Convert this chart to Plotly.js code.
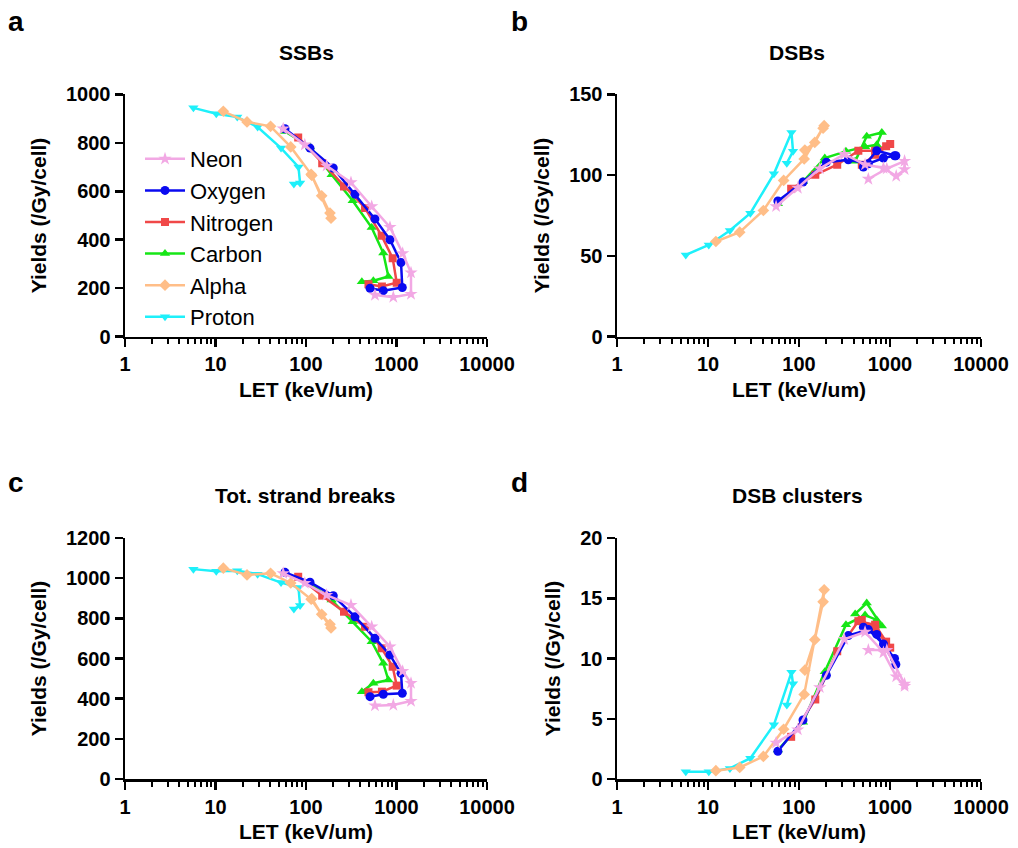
<!DOCTYPE html>
<html>
<head>
<meta charset="utf-8">
<script src="https://cdn.plot.ly/plotly-3.0.1.min.js"></script>
<style>html,body{margin:0;padding:0;background:#fff;}#chart{width:1018px;height:848px;}</style>
</head>
<body>
<div id="chart"></div>
<script>
// ---------- data ----------
const seriesNames = ["Neon", "Oxygen", "Nitrogen", "Carbon", "Alpha", "Proton"];

const neonLET  = [56, 97, 169, 314, 532, 847, 1170, 1446, 1446, 922, 578];
const neonSSB  = [858, 792, 705, 636, 537, 452, 344, 264, 176, 163, 172];
const neonDSB  = [80.6, 92, 104, 113, 106.5, 104.4, 99.4, 103.5, 108.7, 104, 97.6];
const neonTOT  = [1024, 975, 916, 866, 758, 659, 537, 477, 388, 368, 365];
const neonCLU  = [3.0, 4.1, 7.6, 11.6, 12.2, 10.5, 8.5, 7.7, 7.9, 10.7, 10.7];

const oxyLET   = [58.6, 110.7, 200, 348, 578, 847, 1122, 1159, 715, 510];
const oxySSB   = [858, 778, 696, 588, 486, 400, 306, 203, 190, 200];
const oxyDSB   = [84, 95.7, 108, 109.5, 107, 110.6, 112, 112, 115.1, 105];
const oxyTOT   = [1029, 980, 913, 808, 701, 618, 526, 427, 422, 410];
const oxyCLU   = [2.3, 4.9, 8.6, 11.9, 12.4, 11.2, 10.0, 9.5, 12.0, 12.6];

const nitLET   = [82, 151, 263, 449, 686, 907, 1005, 690, 490];
const nitSSB   = [822, 716, 620, 531, 416, 324, 223, 207, 216];
const nitDSB   = [91.6, 100.2, 106.4, 115.1, 115, 117.8, 119.3, 112.6, 106.4];
const nitTOT   = [1007, 913, 833, 758, 651, 559, 465, 435, 432];
const nitCLU   = [3.5, 6.6, 10.6, 13.1, 12.8, 11.4, 10.9, 12.4, 13.2];

const carLET   = [58.6, 110.7, 192, 328, 532, 715, 813, 555, 414];
const carSSB   = [847, 783, 668, 561, 450, 345, 248, 231, 227];
const carDSB   = [82.3, 96, 110.6, 114.7, 117.5, 118.8, 126.4, 124, 108.5];
const carTOT   = [1024, 975, 891, 783, 684, 576, 493, 477, 435];
const carCLU   = [2.4, 4.7, 8.9, 12.8, 13.6, 13.2, 12.7, 14.6, 13.7];

const alpLET   = [12.2, 22.3, 40.6, 67.8, 114, 189, 184, 149, 116];
const alpSSB   = [930, 886, 868, 783, 670, 489, 510, 581, 665];
const alpDSB   = [58.9, 64.7, 78.1, 96.7, 110, 130.6, 129, 120.2, 115.5];
const alpTOT   = [1050, 1016, 1024, 976, 895, 752, 770, 820, 898];
const alpCLU   = [0.69, 0.96, 1.87, 4.13, 7.02, 15.7, 14.7, 11.56, 9.03];

const proLET   = [5.7, 10.2, 17.4, 29.2, 53, 82.6, 86, 73.5];
const proSSB   = [944, 920, 906, 865, 778, 700, 634, 630];
const proDSB   = [50.6, 56.8, 65.7, 76.4, 100.8, 126.4, 114.7, 107.4];
const proTOT   = [1045, 1034, 1037, 1020, 978, 954, 864, 846];
const proCLU   = [0.6, 0.6, 0.88, 1.73, 4.5, 8.85, 7.9, 6.15];

const xTickVals = [1, 10, 100, 1000, 10000];
const xTickText = ["1", "10", "100", "1000", "10000"];
const panelTitles = ["SSBs", "DSBs", "Tot. strand breaks", "DSB clusters"];
const panelLetters = ["a", "b", "c", "d"];
const xTitle = "LET (keV/um)";
const yTitle = "Yields (/Gy/cell)";

// ---------- styles ----------
const styles = {
  Neon:     {color: "#f2a8e4", symbol: "star",          size: 10},
  Oxygen:   {color: "#0a0af0", symbol: "circle",        size: 9},
  Nitrogen: {color: "#f04848", symbol: "square",        size: 8},
  Carbon:   {color: "#16e616", symbol: "triangle-up",   size: 9},
  Alpha:    {color: "#ffbe88", symbol: "diamond",       size: 9},
  Proton:   {color: "#1ef0fa", symbol: "triangle-down", size: 9}
};

const seriesData = {
  Neon:     {x: neonLET, y: [neonSSB, neonDSB, neonTOT, neonCLU]},
  Oxygen:   {x: oxyLET,  y: [oxySSB,  oxyDSB,  oxyTOT,  oxyCLU]},
  Nitrogen: {x: nitLET,  y: [nitSSB,  nitDSB,  nitTOT,  nitCLU]},
  Carbon:   {x: carLET,  y: [carSSB,  carDSB,  carTOT,  carCLU]},
  Alpha:    {x: alpLET,  y: [alpSSB,  alpDSB,  alpTOT,  alpCLU]},
  Proton:   {x: proLET,  y: [proSSB,  proDSB,  proTOT,  proCLU]}
};

const axisIds = [["x", "y"], ["x2", "y2"], ["x3", "y3"], ["x4", "y4"]];
const drawOrder = ["Proton", "Alpha", "Carbon", "Nitrogen", "Oxygen", "Neon"];

const traces = [];
for (let p = 0; p < 4; p++) {
  drawOrder.forEach(name => {
    const s = styles[name];
    traces.push({
      type: "scatter", mode: "lines+markers",
      x: seriesData[name].x, y: seriesData[name].y[p],
      xaxis: axisIds[p][0], yaxis: axisIds[p][1],
      name: name, showlegend: p === 0,
      legendrank: seriesNames.indexOf(name) + 1,
      legendgroup: name,
      line: {color: s.color, width: 2.5},
      marker: {color: s.color, symbol: s.symbol, size: s.size, line: {width: 0}}
    });
  });
}

// minor ticks for log axes
const minorVals = [];
for (let d = 1; d <= 1000; d *= 10) for (let k = 2; k <= 9; k++) minorVals.push(k * d);

const FONT = "Liberation Sans, Arial, sans-serif";
const tickFont = {family: FONT, size: 20, color: "#000", weight: "bold"};
const titleFont = {family: FONT, size: 21, color: "#000", weight: "bold"};

function xAxis(domain, anchor) {
  return {
    type: "log", range: [0, 4], domain: domain, anchor: anchor,
    tickmode: "array", tickvals: xTickVals, ticktext: xTickText,
    ticks: "outside", ticklen: 8, tickwidth: 2.5, tickcolor: "#000",
    minor: {tickmode: "array", tickvals: minorVals, ticks: "outside", ticklen: 5, tickwidth: 2, tickcolor: "#000"},
    showline: true, linewidth: 2.5, linecolor: "#000",
    showgrid: false, zeroline: false, tickfont: tickFont,
    title: {text: xTitle, font: titleFont, standoff: 8}
  };
}
function yAxis(domain, anchor, max, dtick) {
  return {
    range: [0, max], domain: domain, anchor: anchor,
    tickmode: "linear", tick0: 0, dtick: dtick,
    ticks: "outside", ticklen: 8, tickwidth: 2.5, tickcolor: "#000",
    showline: true, linewidth: 2.5, linecolor: "#000",
    showgrid: false, zeroline: false, tickfont: tickFont,
    title: {text: yTitle, font: titleFont, standoff: 14}
  };
}

const W = 1018, H = 848;
const xdA = [125 / W, 487 / W], xdB = [617 / W, 981 / W];
const ydTop = [(H - 336.7) / H, (H - 94.3) / H];
const ydBot = [(H - 779) / H, (H - 538) / H];

const annotations = [];
const titlePos = [[306, 52], [797, 52], [305, 495], [797, 495]];
const letterPos = [[16, 22], [519, 22], [16, 482], [519, 482]];
for (let p = 0; p < 4; p++) {
  annotations.push({xref: "paper", yref: "paper", x: titlePos[p][0] / W, y: 1 - titlePos[p][1] / H,
    xanchor: "center", yanchor: "middle", showarrow: false, text: panelTitles[p], font: titleFont});
  annotations.push({xref: "paper", yref: "paper", x: letterPos[p][0] / W, y: 1 - letterPos[p][1] / H,
    xanchor: "center", yanchor: "middle", showarrow: false, text: panelLetters[p],
    font: {family: FONT, size: 28, color: "#000", weight: "bold"}});
}

const layout = {
  width: W, height: H, margin: {l: 0, r: 0, t: 0, b: 0},
  paper_bgcolor: "#fff", plot_bgcolor: "#fff",
  showlegend: true,
  legend: {x: 140 / W, y: 1 - 138 / H, xanchor: "left", yanchor: "top",
    bgcolor: "rgba(0,0,0,0)", font: {family: FONT, size: 22, color: "#000"},
    tracegroupgap: 0, itemwidth: 40},
  xaxis: xAxis(xdA, "y"), yaxis: yAxis(ydTop, "x", 1000, 200),
  xaxis2: xAxis(xdB, "y2"), yaxis2: yAxis(ydTop, "x2", 150, 50),
  xaxis3: xAxis(xdA, "y3"), yaxis3: yAxis(ydBot, "x3", 1200, 200),
  xaxis4: xAxis(xdB, "y4"), yaxis4: yAxis(ydBot, "x4", 20, 5),
  annotations: annotations
};

Plotly.newPlot("chart", traces, layout, {displayModeBar: false, staticPlot: true});
</script>
</body>
</html>
